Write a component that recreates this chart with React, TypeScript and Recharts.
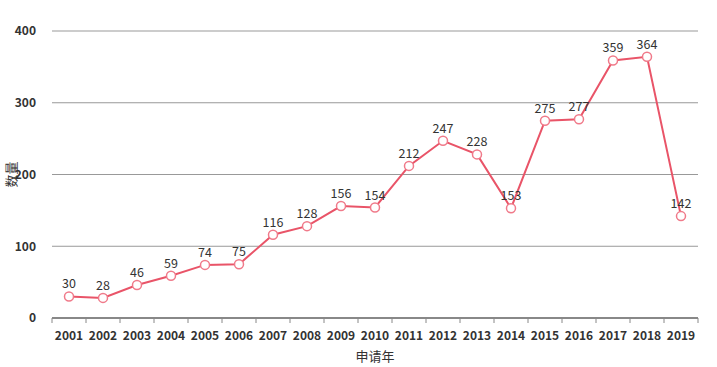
import React from 'react';
import { LineChart, Line, XAxis, YAxis, CartesianGrid, LabelList } from 'recharts';

const years = ['2001', '2002', '2003', '2004', '2005', '2006', '2007', '2008', '2009', '2010',
  '2011', '2012', '2013', '2014', '2015', '2016', '2017', '2018', '2019'];
const counts = [30, 28, 46, 59, 74, 75, 116, 128, 156, 154, 212, 247, 228, 153, 275, 277, 359, 364, 142];
const yTicks = [0, 100, 200, 300, 400];

const W = 717;
const H = 367;
const margin = { top: 31, right: 19, bottom: 0, left: 0 };
const yAxisWidth = 52;
const xAxisHeight = 49;
const bandWidth = (W - margin.left - margin.right - yAxisWidth) / years.length;

const font = '"Noto Sans CJK SC", "DejaVu Sans", sans-serif';

const XTick = (props: any) => {
  const { x, y, payload, index } = props;
  const lineY = y - 8;
  return (
    <g>
      <line x1={x - bandWidth / 2} x2={x - bandWidth / 2} y1={lineY} y2={lineY + 5} stroke="#888" />
      {index === years.length - 1 && (
        <line x1={x + bandWidth / 2} x2={x + bandWidth / 2} y1={lineY} y2={lineY + 5} stroke="#888" />
      )}
      <text x={x} y={y + 14} textAnchor="middle" fontSize={12} fontWeight="bold" fill="#333" fontFamily={font}>
        {payload.value}
      </text>
    </g>
  );
};

// y-axis title, centred on the plot area
const YTitle = (props: any) => {
  const { viewBox } = props;
  const cy = viewBox.y + viewBox.height / 2;
  return (
    <text
      transform={`translate(${viewBox.x + 10}, ${cy}) rotate(-90)`}
      textAnchor="middle"
      dominantBaseline="central"
      fontSize={13}
      fill="#333"
      fontFamily={font}
    >
      数量
    </text>
  );
};

export default function App() {
  const data = years.map((year, i) => ({ year, count: counts[i] }));
  return (
    <div style={{ position: 'absolute', left: 0, top: 0, background: '#fff' }}>
      <LineChart width={W} height={H} data={data} margin={margin}>
        <CartesianGrid vertical={false} stroke="#999" />
        <XAxis
          dataKey="year"
          height={xAxisHeight}
          padding={{ left: bandWidth / 2, right: bandWidth / 2 }}
          axisLine={{ stroke: '#888', strokeWidth: 2 }}
          tickLine={false}
          interval={0}
          tick={<XTick />}
          label={{ value: '申请年', position: 'insideBottom', offset: 6, fill: '#333', fontSize: 13, fontFamily: font }}
        />
        <YAxis
          width={yAxisWidth}
          domain={[0, 400]}
          ticks={yTicks}
          axisLine={false}
          tickLine={false}
          tickMargin={10}
          tick={{ fill: '#333', fontSize: 12, fontWeight: 'bold', fontFamily: font }}
          label={<YTitle />}
        />
        <Line
          type="linear"
          dataKey="count"
          stroke="#e95468"
          strokeWidth={2}
          dot={{ r: 4.5, fill: '#fff', stroke: '#f07a8a', strokeWidth: 1.5 }}
          isAnimationActive={false}
        >
          <LabelList dataKey="count" position="top" offset={8} fill="#333" fontSize={12.5} fontFamily={font} />
        </Line>
      </LineChart>
    </div>
  );
}
